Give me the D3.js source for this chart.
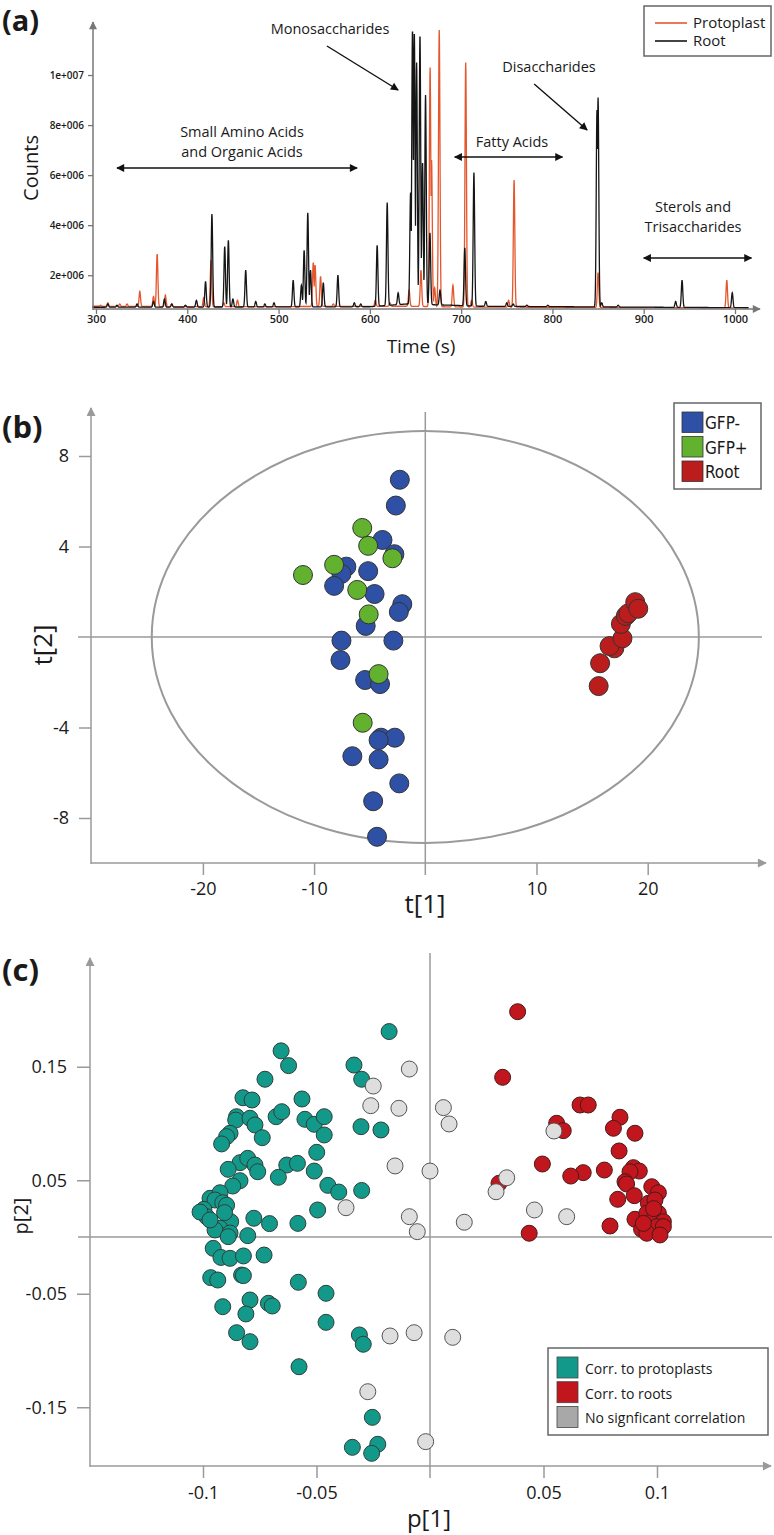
<!DOCTYPE html>
<html><head><meta charset="utf-8">
<script src="https://cdn.jsdelivr.net/npm/d3@7"></script>
<style>
body{margin:0;background:#fff}
svg{display:block}
text{font-family:"Open Sans",sans-serif;fill:#1a1a1a}
</style></head>
<body><svg id="fig" width="774" height="1535"></svg>
<script>
// ---------------- DATA ----------------
// Panel (a): chromatogram, peaks as [time (s), counts]
const timeTicks = [300,400,500,600,700,800,900,1000];
const countTicks = [2e6,4e6,6e6,8e6,1e7];
const countTickLabels = ["2e+006","4e+006","6e+006","8e+006","1e+007"];
const rootBaseline = [[296,7.2e5],[600,7.4e5],[640,8.5e5],[690,8.0e5],[720,7.6e5],[1015,7.0e5]];
const protoplastBaseline = [[296,7.6e5],[420,7.4e5],[640,7.6e5],[700,7.3e5],[1015,6.9e5]];
const rootPeaks = [[313,8.5e5],[323,8.0e5],[345,8.5e5],[363,9.5e5],[375,1.05e6],[383,8.5e5],[398,8.0e5],
 [410,1.0e6],[420,1.75e6],[427,4.45e6],[441,3.15e6],[445,3.4e6],[450,1.05e6],[464,2.2e6],[475,9.5e5],
 [485,8.5e5],[495,9.0e5],[516,1.8e6],[525,1.6e6],[528,3.0e6],[532,4.5e6],[535,2.2e6],[549,1.7e6],
 [565,2.0e6],[583,9.0e5],[590,8.5e5],[608,3.2e6],[619,4.9e6],[631,1.3e6],[644.6,5.3e6],[646.7,1.18e7],
 [648.7,1.17e7],[651.2,1.05e7],[654.9,1.16e7],[657.7,6.5e6],[661,9.2e6],[665.8,3.7e6],[676.8,1.4e6],
 [704,3.1e6],[714,6.1e6],[727,9.5e5],[750,9.0e5],[757,8.5e5],[772,8.0e5],[795,8.0e5],[848.8,8.6e6],
 [850,9.1e6],[854,9.0e5],[872,8.0e5],[935,9.5e5],[942,1.8e6],[997,1.3e6]];
const protoplastPeaks = [[305,8.0e5],[313,9.0e5],[326,8.5e5],[334,8.5e5],[348,1.35e6],[363,1.15e6],
 [367,2.85e6],[376,1.2e6],[383,8.5e5],[418,1.1e6],[426,2.6e6],[440,9.0e5],[455,1.0e6],[538,2.5e6],
 [540,2.4e6],[546,1.95e6],[560,8.5e5],[606,1.0e6],[622,9.0e5],[643,1.4e6],[656,2.2e6],[666,1.03e7],
 [667.6,6.6e6],[671,1.5e6],[676,1.18e7],[691,1.6e6],[705,1.05e7],[711.5,1.0e6],[752,1.0e6],
 [758,5.8e6],[850,2.1e6],[991,1.8e6]];
const seriesNamesA = ["Protoplast","Root"];

// Panel (b): PCA scores t[1], t[2]
const gfpMinusT1 = [-2.29,-2.65,-3.85,-2.78,-7.1,-7.54,-5.14,-8.2,-4.56,-2.07,-2.38,-5.36,-7.54,-2.87,-7.63,-5.41,-4.07,-3.98,-2.74,-4.2,-6.56,-4.2,-2.34,-4.69,-4.34];
const gfpMinusT2 = [6.95,5.81,4.29,3.66,3.11,2.79,2.91,2.26,1.9,1.45,1.11,0.49,-0.16,-0.16,-1.02,-1.9,-2.08,-4.45,-4.45,-4.56,-5.27,-5.41,-6.47,-7.26,-8.83];
const gfpPlusT1 = [-5.67,-5.14,-2.96,-8.2,-11.0,-6.12,-5.09,-4.2,-5.63];
const gfpPlusT2 = [4.82,4.03,3.48,3.19,2.74,2.08,1.0,-1.64,-3.79];
const rootT1 = [15.59,15.72,17.0,16.57,17.73,17.59,18.03,18.26,18.88,19.15];
const rootT2 = [-2.17,-1.16,-0.5,-0.4,-0.06,0.58,0.93,1.05,1.54,1.25];
const t1Ticks = [-20,-10,10,20];
const t2Ticks = [-8,-4,4,8];
const ellipseT = [24.6, 9.1];   // Hotelling T2 ellipse semi-axes
const groupNamesB = ["GFP-","GFP+","Root"];

// Panel (c): loadings p[1], p[2]
const protoP = [[-0.018,0.181],[-0.0656,0.164],[-0.0623,0.151],[-0.0335,0.1515],[-0.0301,0.139],[-0.0727,0.139],
 [-0.0824,0.1227],[-0.0784,0.1207],[-0.0564,0.1216],[-0.0852,0.106],[-0.0856,0.103],[-0.0793,0.1046],
 [-0.0771,0.0987],[-0.0678,0.106],[-0.0653,0.1104],[-0.0551,0.1037],[-0.051,0.0993],[-0.0466,0.106],
 [-0.0466,0.0899],[-0.0304,0.0972],[-0.0216,0.0943],[-0.0881,0.0914],[-0.0896,0.0884],[-0.0918,0.082],
 [-0.0739,0.0875],[-0.0499,0.0746],[-0.0837,0.0655],[-0.0803,0.0693],[-0.0771,0.0634],[-0.0759,0.0575],
 [-0.0889,0.0596],[-0.0631,0.0634],[-0.0584,0.0649],[-0.0668,0.0526],[-0.051,0.0581],[-0.0837,0.0496],
 [-0.0869,0.0449],[-0.045,0.0455],[-0.0402,0.0396],[-0.0301,0.041],[-0.0969,0.0341],[-0.0925,0.039],
 [-0.0947,0.0326],[-0.0913,0.0302],[-0.0996,0.0244],[-0.0984,0.0179],[-0.0495,0.0238],[-0.0776,0.0165],
 [-0.0707,0.0118],[-0.0582,0.012],[-0.0878,0.0135],[-0.0925,0.0077],[-0.0947,0.0062],[-0.0803,0.0012],
 [-0.0881,0.0035],[-0.0955,-0.01],[-0.0921,-0.018],[-0.0881,-0.0188],[-0.0822,-0.0167],[-0.0731,-0.0159],
 [-0.0966,-0.0358],[-0.0935,-0.0379],[-0.083,-0.0335],[-0.0822,-0.034],[-0.058,-0.0399],[-0.0458,-0.0496],
 [-0.0793,-0.0555],[-0.0712,-0.0584],[-0.0695,-0.0608],[-0.0913,-0.0614],[-0.0811,-0.0678],[-0.0458,-0.0752],
 [-0.0311,-0.0863],[-0.0294,-0.0945],[-0.0852,-0.0843],[-0.0793,-0.0922],[-0.0577,-0.1143],[-0.0254,-0.1589],
 [-0.0342,-0.1853],[-0.023,-0.1826],[-0.0257,-0.1906],[-0.1013,0.022],[-0.0889,0.0003],[-0.0896,0.028],
 [-0.0969,0.015],[-0.0905,0.0215]];
const rootP = [[0.0386,0.1985],[0.032,0.1407],[0.0661,0.1163],[0.0697,0.1163],[0.0558,0.1002],[0.0587,0.0937],
 [0.0837,0.1055],[0.0808,0.0958],[0.0903,0.0914],[0.0833,0.0758],[0.0495,0.0643],[0.0768,0.059],
 [0.0675,0.0567],[0.062,0.0537],[0.0896,0.0611],[0.0922,0.0581],[0.0881,0.0575],[0.0859,0.0487],
 [0.0866,0.0467],[0.0304,0.0473],[0.0827,0.0332],[0.09,0.0364],[0.0977,0.0443],[0.1006,0.039],
 [0.0962,0.0297],[0.0991,0.0326],[0.0793,0.0097],[0.0437,0.0033],[0.0903,0.0156],[0.0955,0.0209],
 [0.1006,0.0209],[0.0984,0.015],[0.1028,0.0135],[0.0932,0.0068],[0.0962,0.0077],[0.0999,0.0091],
 [0.1028,0.0091],[0.0955,0.0033],[0.1013,0.0018],[0.0985,0.025],[0.094,0.012]];
const noCorrP = [[-0.0091,0.148],[-0.025,0.133],[-0.0261,0.1157],[-0.0137,0.1134],[0.0059,0.114],[0.0084,0.0996],
 [-0.0154,0.0626],[0.0,0.0581],[-0.037,0.0258],[-0.0091,0.0179],[-0.0056,0.0047],[0.0151,0.013],
 [0.0546,0.0934],[0.0338,0.0522],[0.0291,0.0399],[0.046,0.0238],[0.0602,0.0179],[-0.0176,-0.0872],
 [-0.007,-0.0843],[0.01,-0.0884],[-0.0274,-0.1363],[-0.0019,-0.1803]];
const p1Ticks = [-0.1,-0.05,0.05,0.1];
const p2Ticks = [-0.15,-0.05,0.05,0.15];
const groupNamesC = ["Corr. to protoplasts","Corr. to roots","No signficant correlation"];

// ---------------- DRAWING ----------------
const svg = d3.select("#fig");
svg.append("rect").attr("width",774).attr("height",1535).attr("fill","#fff");
const defs = svg.append("defs");
function marker(id, color, w, h){
  defs.append("marker").attr("id",id).attr("viewBox","0 0 10 10").attr("refX",9).attr("refY",5)
    .attr("markerWidth",w).attr("markerHeight",h).attr("markerUnits","userSpaceOnUse")
    .attr("orient","auto-start-reverse")
    .append("path").attr("d","M0,0 L10,5 L0,10 Z").attr("fill",color);
}
marker("ablk","#111",9,8);
marker("agrayA","#777",10,8);
marker("agray","#9a9a9a",11,9);

// ===== Panel (a) =====
const xA = d3.scaleLinear().domain([300,1000]).range([96,735]);
const yA = d3.scaleLinear().domain([650000,12120000]).range([309,22]);
const gA = svg.append("g");
gA.append("text").attr("x",2).attr("y",31).attr("font-size",29).attr("font-weight",700).text("(a)");

function trace(peaks, baseline){
  const base = d3.scaleLinear().domain(baseline.map(d=>d[0])).range(baseline.map(d=>d[1]));
  const pts = [];
  for(let t=296; t<=1015; t+=0.2){
    let v = base(t);
    for(const [pt,h] of peaks){
      const d=(t-pt)/0.8;
      if(Math.abs(d)<6){ v = Math.max(v, base(t) + (h-base(pt))*Math.exp(-0.5*d*d)); }
    }
    pts.push([t,v]);
  }
  return pts;
}
const lineA = d3.line().x(d=>xA(d[0])).y(d=>yA(d[1]));
gA.append("path").attr("d",lineA(trace(protoplastPeaks,protoplastBaseline)))
  .attr("fill","none").attr("stroke","#e4572e").attr("stroke-width",1.3);
gA.append("path").attr("d",lineA(trace(rootPeaks,rootBaseline)))
  .attr("fill","none").attr("stroke","#151515").attr("stroke-width",1.3);

const axXA = gA.append("g").attr("transform","translate(0,309)")
  .call(d3.axisBottom(xA).tickValues(timeTicks).tickSize(5).tickPadding(1).tickFormat(d=>String(d)));
axXA.select(".domain").remove();
axXA.selectAll("line").attr("stroke","#777").attr("stroke-width",1.3);
axXA.selectAll("text").attr("font-size",11).attr("font-weight",600).attr("fill","#1a1a1a");
gA.append("line").attr("x1",93).attr("x2",760).attr("y1",309).attr("y2",309)
  .attr("stroke","#777").attr("stroke-width",1.5).attr("marker-end","url(#agrayA)");
const axYA = gA.append("g").attr("transform","translate(93,0)")
  .call(d3.axisLeft(yA).tickValues(countTicks).tickSize(5).tickPadding(4).tickFormat((d,i)=>countTickLabels[i]));
axYA.select(".domain").remove();
axYA.selectAll("line").attr("stroke","#777").attr("stroke-width",1.3);
axYA.selectAll("text").attr("font-size",10).attr("font-weight",600).attr("fill","#1a1a1a");
gA.append("line").attr("x1",93).attr("x2",93).attr("y1",310).attr("y2",22)
  .attr("stroke","#777").attr("stroke-width",1.5).attr("marker-end","url(#agrayA)");
gA.append("text").attr("transform","translate(38,168) rotate(-90)").attr("text-anchor","middle")
  .attr("font-size",20).text("Counts");
gA.append("text").attr("x",421).attr("y",353).attr("text-anchor","middle").attr("font-size",19).text("Time (s)");

const ann = [
  {lines:["Monosaccharides"],x:330,y:34},
  {lines:["Small Amino Acids","and Organic Acids"],x:242,y:137},
  {lines:["Disaccharides"],x:549,y:72},
  {lines:["Fatty Acids"],x:512,y:147},
  {lines:["Sterols and","Trisaccharides"],x:693,y:212}
];
ann.forEach(a=>{
  a.lines.forEach((l,i)=>gA.append("text").attr("x",a.x).attr("y",a.y+i*20).attr("text-anchor","middle")
    .attr("font-size",14.5).attr("fill","#222").text(l));
});
function arrow(t1,y1,t2,y2,dbl){
  const l = gA.append("line").attr("x1",xA(t1)).attr("y1",y1).attr("x2",xA(t2)).attr("y2",y2)
   .attr("stroke","#111").attr("stroke-width",1.4).attr("marker-end","url(#ablk)");
  if(dbl) l.attr("marker-start","url(#ablk)");
}
arrow(553,46,631,90,false);
arrow(323,168,586,168,true);
arrow(780,84,838,130,false);
arrow(693,157,811,157,true);
arrow(900,258,1018,258,true);

const lgA = gA.append("g");
lgA.append("rect").attr("x",644).attr("y",6).attr("width",127).attr("height",50)
  .attr("fill","#fff").attr("stroke","#666").attr("stroke-width",1.5);
[["#e4572e",23],["#151515",41]].forEach((c,i)=>{
  lgA.append("line").attr("x1",655).attr("x2",687).attr("y1",c[1]).attr("y2",c[1]).attr("stroke",c[0]).attr("stroke-width",1.6);
  lgA.append("text").attr("x",693).attr("y",c[1]+5).attr("font-size",15).attr("fill","#222").text(seriesNamesA[i]);
});

// ===== Panel (b) =====
const xB = d3.scaleLinear().domain([0,10]).range([425.3,536.5]);
const yB = d3.scaleLinear().domain([0,8]).range([637,456]);
const gB = svg.append("g");
gB.append("text").attr("x",2).attr("y",438).attr("font-size",31).attr("font-weight",700).text("(b)");
const gray = "#9a9a9a";
gB.append("line").attr("x1",78).attr("x2",762).attr("y1",yB(0)).attr("y2",yB(0)).attr("stroke",gray).attr("stroke-width",1.5);
gB.append("line").attr("x1",xB(0)).attr("x2",xB(0)).attr("y1",412).attr("y2",875).attr("stroke",gray).attr("stroke-width",1.5);
gB.append("ellipse").attr("cx",xB(0)).attr("cy",yB(0))
  .attr("rx",xB(ellipseT[0])-xB(0)).attr("ry",yB(0)-yB(ellipseT[1]))
  .attr("fill","none").attr("stroke",gray).attr("stroke-width",2);
const axXB = gB.append("g").attr("transform","translate(0,863)")
  .call(d3.axisBottom(xB).tickValues(t1Ticks).tickSize(12).tickPadding(7).tickFormat(d=>String(d)));
axXB.select(".domain").remove();
axXB.selectAll("line").attr("stroke",gray).attr("stroke-width",1.5);
axXB.selectAll("text").attr("font-size",18).attr("fill","#111");
const axYB = gB.append("g").attr("transform","translate(91,0)")
  .call(d3.axisLeft(yB).tickValues(t2Ticks).tickSize(12).tickPadding(10).tickFormat(d=>String(d)));
axYB.select(".domain").remove();
axYB.selectAll("line").attr("stroke",gray).attr("stroke-width",1.5);
axYB.selectAll("text").attr("font-size",18).attr("fill","#111");
gB.append("line").attr("x1",91).attr("x2",766).attr("y1",863).attr("y2",863).attr("stroke",gray).attr("stroke-width",1.5).attr("marker-end","url(#agray)");
gB.append("line").attr("x1",91).attr("x2",91).attr("y1",864).attr("y2",408).attr("stroke",gray).attr("stroke-width",1.5).attr("marker-end","url(#agray)");
gB.append("text").attr("x",425).attr("y",913).attr("text-anchor","middle").attr("font-size",26).attr("fill","#111").text("t[1]");
gB.append("text").attr("transform","translate(52,645) rotate(-90)").attr("text-anchor","middle").attr("font-size",26).attr("fill","#111").text("t[2]");
const colB = ["#2e50a5","#62b22f","#bb1d1d"];
function dotsB(t1,t2,c){
  gB.append("g").selectAll("circle").data(d3.zip(t1,t2)).join("circle")
    .attr("cx",d=>xB(d[0])).attr("cy",d=>yB(d[1])).attr("r",9.5)
    .attr("fill",c).attr("stroke","#333").attr("stroke-width",1);
}
dotsB(gfpMinusT1,gfpMinusT2,colB[0]);
dotsB(gfpPlusT1,gfpPlusT2,colB[1]);
dotsB(rootT1,rootT2,colB[2]);
const lgB = gB.append("g");
lgB.append("rect").attr("x",674).attr("y",403).attr("width",87).attr("height",86).attr("fill","#fff").attr("stroke","#666").attr("stroke-width",1.5);
groupNamesB.forEach((n,i)=>{
  lgB.append("rect").attr("x",682).attr("y",412+i*24.5).attr("width",21).attr("height",20.5)
    .attr("fill",colB[i]).attr("stroke","#333").attr("stroke-width",0.8);
  lgB.append("text").attr("x",705).attr("y",429+i*24.5).attr("font-size",17)
    .style("font-family","'DejaVu Sans Condensed','Liberation Sans Narrow',sans-serif").attr("fill","#111").text(n);
});

// ===== Panel (c) =====
const xC = d3.scaleLinear().domain([0,0.05]).range([430,543.5]);
const yC = d3.scaleLinear().domain([0,0.05]).range([1237,1180.25]);
const gC = svg.append("g");
gC.append("text").attr("x",2).attr("y",981).attr("font-size",31).attr("font-weight",700).text("(c)");
gC.append("line").attr("x1",78).attr("x2",772).attr("y1",yC(0)).attr("y2",yC(0)).attr("stroke",gray).attr("stroke-width",1.5);
gC.append("line").attr("x1",xC(0)).attr("x2",xC(0)).attr("y1",953).attr("y2",1478).attr("stroke",gray).attr("stroke-width",1.5);
const axXC = gC.append("g").attr("transform","translate(0,1466)")
  .call(d3.axisBottom(xC).tickValues(p1Ticks).tickSize(12).tickPadding(8).tickFormat(d=>String(d)));
axXC.select(".domain").remove();
axXC.selectAll("line").attr("stroke",gray).attr("stroke-width",1.5);
axXC.selectAll("text").attr("font-size",18).attr("fill","#111");
const axYC = gC.append("g").attr("transform","translate(90,0)")
  .call(d3.axisLeft(yC).tickValues(p2Ticks).tickSize(13).tickPadding(10).tickFormat(d=>String(d)));
axYC.select(".domain").remove();
axYC.selectAll("line").attr("stroke",gray).attr("stroke-width",1.5);
axYC.selectAll("text").attr("font-size",18).attr("fill","#111");
gC.append("line").attr("x1",90).attr("x2",771).attr("y1",1466).attr("y2",1466).attr("stroke",gray).attr("stroke-width",1.5).attr("marker-end","url(#agray)");
gC.append("line").attr("x1",90).attr("x2",90).attr("y1",1467).attr("y2",958).attr("stroke",gray).attr("stroke-width",1.5).attr("marker-end","url(#agray)");
gC.append("text").attr("x",429).attr("y",1527).attr("text-anchor","middle").attr("font-size",24).attr("fill","#111").text("p[1]");
gC.append("text").attr("transform","translate(28,1216) rotate(-90)").attr("text-anchor","middle").attr("font-size",20).attr("fill","#111").text("p[2]");
const colC = ["#13998a","#c1161e","#dedede"];
function dotsC(arr,c,stroke){
  gC.append("g").selectAll("circle").data(arr).join("circle")
    .attr("cx",d=>xC(d[0])).attr("cy",d=>yC(d[1])).attr("r",8)
    .attr("fill",c).attr("stroke",stroke).attr("stroke-width",1);
}
dotsC(protoP,colC[0],"#2f3f3c");
dotsC(rootP,colC[1],"#4a1a1a");
dotsC(noCorrP,colC[2],"#555");
const lgC = gC.append("g");
lgC.append("rect").attr("x",548).attr("y",1348).attr("width",220).attr("height",87).attr("fill","#fff").attr("stroke","#666").attr("stroke-width",1.5);
const legSq = ["#13998a","#c1161e","#a8a8a8"];
groupNamesC.forEach((n,i)=>{
  lgC.append("rect").attr("x",557).attr("y",1357+i*24.7).attr("width",21).attr("height",21)
    .attr("fill",legSq[i]).attr("stroke","#444").attr("stroke-width",0.8);
  lgC.append("text").attr("x",585).attr("y",1374+i*24.7).attr("font-size",14).attr("fill","#111").text(n);
});
</script></body></html>
